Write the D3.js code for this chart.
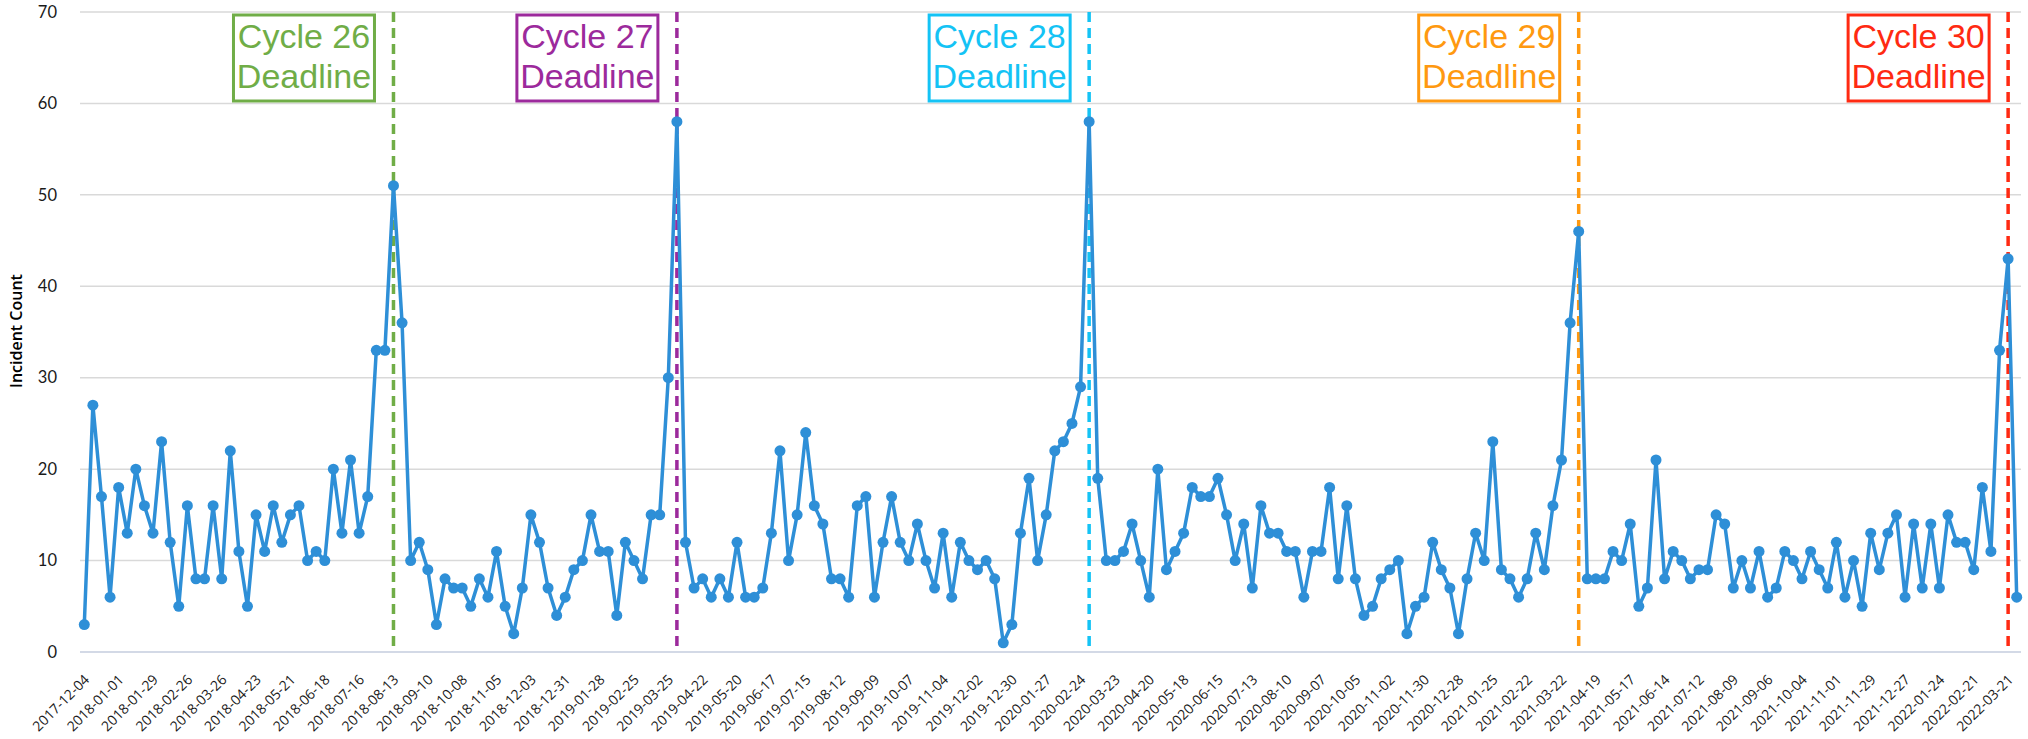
<!DOCTYPE html>
<html>
<head>
<meta charset="utf-8">
<script src="https://cdn.jsdelivr.net/npm/d3@7"></script>
<style>
  body { margin: 0; background: #fff; }
</style>
</head>
<body>
<div id="canvas"></div>
<script>
// weekly incident counts, first week starts 2017-12-04
var startWeek = "2017-12-04";
var counts = [
  3,27,17,6,18,13,20,16,13,23,12,5,16,8,8,16,8,22,11,5,15,11,16,12,15,16,10,11,10,20,13,21,13,17,33,33,51,36,10,12,
  9,3,8,7,7,5,8,6,11,5,2,7,15,12,7,4,6,9,10,15,11,11,4,12,10,8,15,15,30,58,12,7,8,6,8,6,12,6,6,7,13,22,10,15,
  24,16,14,8,8,6,16,17,6,12,17,12,10,14,10,7,13,6,12,10,9,10,8,1,3,13,19,10,15,22,23,25,29,58,19,10,10,11,14,10,6,20,9,11,13,
  18,17,17,19,15,10,14,7,16,13,13,11,11,6,11,11,18,8,16,8,4,5,8,9,10,2,5,6,12,9,7,2,8,13,10,23,9,8,6,8,13,9,16,21,
  36,46,8,8,8,11,10,14,5,7,21,8,11,10,8,9,9,15,14,7,10,7,11,6,7,11,10,8,11,9,7,12,6,10,5,13,9,13,15,6,14,7,14,7,15,12,12,9,18,11,33,43,6
];
var yTicks = [0, 10, 20, 30, 40, 50, 60, 70];

var deadlineLabels = ["Cycle 26", "Cycle 27", "Cycle 28", "Cycle 29", "Cycle 30"];
var deadlineWeeks = ["2018-08-13", "2019-04-01", "2020-03-02", "2021-04-05", "2022-03-21"];
var deadlineColors = ["#70ad47", "#9c2a9c", "#14c3f5", "#ff9910", "#ff2a12"];

(function(){

    var width = 2028, height = 739;
    var left = 80, right = 2021, top = 12, bottom = 652;

    var fmt = d3.utcFormat("%Y-%m-%d");
    var parse = d3.utcParse("%Y-%m-%d");
    var start = parse(startWeek);
    var weeks = counts.map(function (c, i) { return fmt(d3.utcDay.offset(start, 7 * i)); });

    var svg = d3.select("#canvas")
        .append("svg")
        .attr("width", width)
        .attr("height", height);

    var x = d3.scalePoint()
        .domain(weeks)
        .range([left, right])
        .padding(0.5);

    var y = d3.scaleLinear()
        .domain([0, 70])
        .range([bottom, top]);

    // gridlines
    svg.append("g")
        .selectAll("line")
        .data(yTicks.filter(function (d) { return d > 0; }))
        .enter()
        .append("line")
        .attr("x1", left)
        .attr("x2", right)
        .attr("y1", function (d) { return y(d); })
        .attr("y2", function (d) { return y(d); })
        .attr("stroke", "#d9d9d9")
        .attr("stroke-width", 1.5);

    svg.append("line")
        .attr("x1", left)
        .attr("x2", right)
        .attr("y1", y(0))
        .attr("y2", y(0))
        .attr("stroke", "#d3d9e6")
        .attr("stroke-width", 2);

    // y axis
    var yAxis = svg.append("g")
        .attr("transform", "translate(" + left + ",0)")
        .call(d3.axisLeft(y).tickValues(yTicks).tickSize(0).tickPadding(23));
    yAxis.select(".domain").remove();
    yAxis.selectAll("text")
        .attr("font-family", "Lato, 'DejaVu Sans', sans-serif")
        .attr("font-size", 16.5)
        .attr("fill", "#1a1a1a");

    svg.append("text")
        .attr("transform", "translate(22," + 331 + ") rotate(-90)")
        .attr("text-anchor", "middle")
        .attr("font-family", "'Open Sans', 'Noto Sans', sans-serif")
        .attr("font-weight", 600)
        .attr("font-size", 16)
        .attr("fill", "#000")
        .text("Incident Count");

    // x axis
    var xAxis = svg.append("g")
        .attr("transform", "translate(0," + bottom + ")")
        .call(d3.axisBottom(x)
            .tickValues(weeks.filter(function (d, i) { return i % 4 === 0; }))
            .tickSize(0));
    xAxis.select(".domain").remove();
    xAxis.selectAll("text")
        .attr("x", null)
        .attr("y", null)
        .attr("dy", "0.35em")
        .attr("text-anchor", "end")
        .attr("transform", "translate(2,25) rotate(-45)")
        .attr("font-family", "'Open Sans', 'Noto Sans', sans-serif")
        .attr("font-size", 14)
        .attr("fill", "#1a1a1a");

    // deadline lines
    deadlineWeeks.forEach(function (w, i) {
        svg.append("line")
            .attr("x1", x(w))
            .attr("x2", x(w))
            .attr("y1", y(70))
            .attr("y2", y(0))
            .attr("stroke", deadlineColors[i])
            .attr("stroke-width", 3.5)
            .attr("stroke-dasharray", "10,6");
    });

    // series
    var line = d3.line()
        .x(function (d, i) { return x(weeks[i]); })
        .y(function (d) { return y(d); });

    svg.append("path")
        .datum(counts)
        .attr("d", line)
        .attr("fill", "none")
        .attr("stroke", "#2e8fd7")
        .attr("stroke-width", 3.5)
        .attr("stroke-linejoin", "round");

    svg.append("g")
        .selectAll("circle")
        .data(counts)
        .enter()
        .append("circle")
        .attr("cx", function (d, i) { return x(weeks[i]); })
        .attr("cy", function (d) { return y(d); })
        .attr("r", 5.5)
        .attr("fill", "#2e8fd7");

    // deadline boxes
    var boxW = 141, boxH = 86, boxTop = 15;
    deadlineWeeks.forEach(function (w, i) {
        var bx = x(w) - 19 - boxW;
        var g = svg.append("g");
        g.append("rect")
            .attr("x", bx)
            .attr("y", boxTop)
            .attr("width", boxW)
            .attr("height", boxH)
            .attr("fill", "#fff")
            .attr("stroke", deadlineColors[i])
            .attr("stroke-width", 3);
        g.append("text")
            .attr("x", bx + boxW / 2)
            .attr("y", boxTop + 33)
            .attr("text-anchor", "middle")
            .attr("font-family", "'Liberation Sans', Arial, sans-serif")
            .attr("font-size", 34)
            .attr("fill", deadlineColors[i])
            .text(deadlineLabels[i]);
        g.append("text")
            .attr("x", bx + boxW / 2)
            .attr("y", boxTop + 73)
            .attr("text-anchor", "middle")
            .attr("font-family", "'Liberation Sans', Arial, sans-serif")
            .attr("font-size", 34)
            .attr("fill", deadlineColors[i])
            .text("Deadline");
    });

})();
</script>
</body>
</html>
